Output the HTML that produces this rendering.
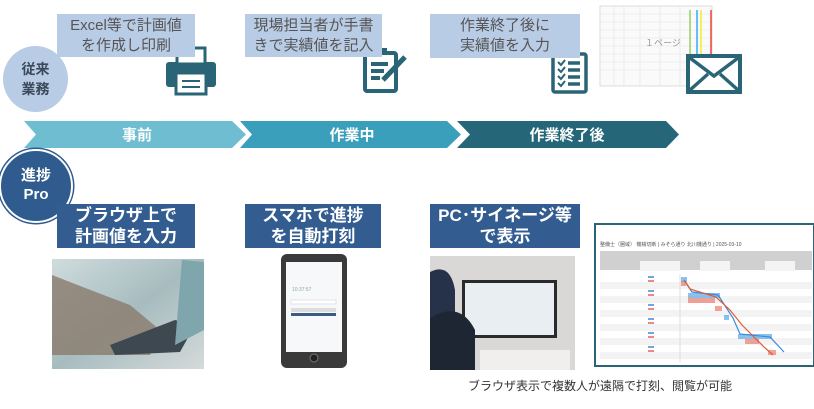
<!DOCTYPE html>
<html><head><meta charset="utf-8"><style>
*{margin:0;padding:0;box-sizing:border-box}
body{width:814px;height:409px;background:#fff;position:relative;overflow:hidden;font-family:"Liberation Sans","Noto Sans CJK JP",sans-serif}
.a{position:absolute}
.lb{background:#b9cce5;color:#555;font-size:15px;line-height:20px;text-align:center;padding-top:2px}
.db{background:#335d90;color:#fff;font-size:17px;font-weight:bold;line-height:21px;text-align:center;padding-top:1px}
.circ{border-radius:50%;text-align:center;font-weight:bold}
</style></head><body>
<svg class="a" style="left:0;top:0" width="814" height="409">
<polygon points="24,121 232,121 246,134.5 232,148 24,148 36,134.5" fill="#6fbdd1"/>
<polygon points="240,121 447,121 461,134.5 447,148 240,148 252,134.5" fill="#3a9fba"/>
<polygon points="457,121 666,121 679,134.5 666,148 457,148 470,134.5" fill="#256678"/>
<text x="137" y="140" fill="#fff" font-size="15" font-weight="bold" text-anchor="middle" font-family="Liberation Sans, Noto Sans CJK JP, sans-serif">事前</text>
<text x="352" y="140" fill="#fff" font-size="15" font-weight="bold" text-anchor="middle" font-family="Liberation Sans, Noto Sans CJK JP, sans-serif">作業中</text>
<text x="567" y="140" fill="#fff" font-size="15" font-weight="bold" text-anchor="middle" font-family="Liberation Sans, Noto Sans CJK JP, sans-serif">作業終了後</text>
<g fill="#2a6577">
<rect x="166" y="62" width="50" height="25" rx="3"/>
<rect x="177" y="48" width="28" height="16" fill="#fff" stroke="#2a6577" stroke-width="3"/>
<rect x="176" y="73" width="30" height="21" fill="#fff" stroke="#2a6577" stroke-width="3"/>
<rect x="182" y="80" width="18" height="2"/><rect x="182" y="86" width="18" height="2"/>
</g>
<g fill="none" stroke="#2a6577" stroke-width="4">
<rect x="365" y="53" width="31" height="38" rx="2"/>
<line x1="371" y1="64" x2="388" y2="64"/><line x1="371" y1="71" x2="384" y2="71"/><line x1="371" y1="78" x2="380" y2="78"/>
</g>
<rect x="374" y="48" width="13" height="6" fill="#2a6577"/>
<line x1="383" y1="80" x2="405" y2="57" stroke="#2a6577" stroke-width="5"/>
<g fill="none" stroke="#2a6577" stroke-width="3.5">
<rect x="553" y="54" width="33" height="38" rx="2"/>
<line x1="568" y1="63" x2="580" y2="63"/><line x1="568" y1="70" x2="580" y2="70"/><line x1="568" y1="77" x2="580" y2="77"/><line x1="568" y1="84" x2="580" y2="84"/>
<path d="M558 62l3 3 4-5M558 69l3 3 4-5M558 76l3 3 4-5M558 83l3 3 4-5" stroke-width="2"/>
</g>
<rect x="566" y="49" width="10" height="6" rx="2" fill="#2a6577"/>
<g>
<rect x="600" y="6" width="112" height="80" fill="#fafafa" stroke="#ddd"/>
<g stroke="#e2e2e2" stroke-width="0.6">
<line x1="600" y1="14" x2="712" y2="14"/><line x1="600" y1="22" x2="712" y2="22"/><line x1="600" y1="30" x2="712" y2="30"/><line x1="600" y1="38" x2="712" y2="38"/><line x1="600" y1="46" x2="712" y2="46"/><line x1="600" y1="54" x2="712" y2="54"/><line x1="600" y1="62" x2="712" y2="62"/><line x1="600" y1="70" x2="712" y2="70"/>
<line x1="614" y1="6" x2="614" y2="86"/><line x1="624" y1="6" x2="624" y2="86"/><line x1="640" y1="6" x2="640" y2="86"/><line x1="660" y1="6" x2="660" y2="86"/><line x1="680" y1="6" x2="680" y2="86"/>
</g>
<line x1="690" y1="10" x2="690" y2="75" stroke="#9c6" stroke-width="1.5"/>
<line x1="697" y1="10" x2="697" y2="75" stroke="#3af" stroke-width="1.5"/>
<line x1="701" y1="10" x2="701" y2="75" stroke="#ee3" stroke-width="1.5"/>
<line x1="711" y1="10" x2="711" y2="75" stroke="#e43" stroke-width="1.5"/>
<text x="645" y="46" font-size="9" fill="#999">１ページ</text>
<rect x="688" y="56" width="52" height="36" fill="#fff" stroke="#2a6577" stroke-width="4"/>
<path d="M690 58l24 18 24-18M690 90l18-16M738 90l-18-16" stroke="#2a6577" stroke-width="3.5" fill="none"/>
</g>
<rect x="281" y="254" width="66" height="114" rx="6" fill="#3a3a3a"/>
<rect x="286" y="262" width="56" height="90" fill="#f7f8fa"/>
<rect x="291" y="308" width="45" height="4" fill="#ddd"/><rect x="291" y="313" width="45" height="3" fill="#3d5a80"/>
<rect x="291" y="300" width="45" height="4" fill="#fff" stroke="#ccc" stroke-width="0.5"/>
<text x="292" y="291" font-size="5" fill="#8aa">10:37:57</text>
<circle cx="314" cy="358" r="4" fill="#222" stroke="#777"/>
<defs>
<linearGradient id="lg1" x1="0" x2="1" y1="0" y2="1"><stop offset="0" stop-color="#cfdcdd"/><stop offset="0.5" stop-color="#a7bcbf"/><stop offset="1" stop-color="#d5dada"/></linearGradient>
</defs>
<rect x="52" y="259" width="152" height="110" fill="url(#lg1)"/>
<path d="M52 275 Q90 290 130 305 L160 330 L150 355 L52 355Z" fill="#8a7a6c" opacity="0.8"/>
<path d="M110 345 L175 320 L195 325 L180 352 L115 355Z" fill="#3d4850"/>
<polygon points="182,260 204,262 204,330 175,345" fill="#7fa5ad"/>
<rect x="430" y="256" width="145" height="114" fill="#d9d8d6"/>
<rect x="462" y="280" width="95" height="58" fill="#2a2a2a"/>
<rect x="465" y="283" width="89" height="52" fill="#e8eef2"/>
<path d="M430 272 Q450 262 455 290 L455 370 L430 370Z" fill="#26324a"/>
<path d="M430 318 Q460 300 475 330 L475 370 L430 370Z" fill="#1e2533"/>
<rect x="480" y="350" width="90" height="20" fill="#f0efed"/>
<rect x="595" y="224" width="219" height="142" fill="#fff" stroke="#2a6577" stroke-width="2"/>
<rect x="600" y="251" width="212" height="19" fill="#d0d0d0"/>
<rect x="640" y="261" width="40" height="10" fill="#f4f4f4"/><rect x="700" y="261" width="30" height="10" fill="#f4f4f4"/><rect x="765" y="261" width="30" height="10" fill="#f4f4f4"/>
<g fill="#f3f3f3"><rect x="600" y="282" width="212" height="7"/><rect x="600" y="296" width="212" height="7"/><rect x="600" y="310" width="212" height="7"/><rect x="600" y="324" width="212" height="7"/><rect x="600" y="338" width="212" height="7"/><rect x="600" y="352" width="212" height="7"/></g>
<g fill="#7ba2de"><rect x="648" y="276" width="6" height="2"/><rect x="648" y="290" width="6" height="2"/><rect x="648" y="304" width="6" height="2"/><rect x="648" y="318" width="6" height="2"/><rect x="648" y="332" width="6" height="2"/><rect x="648" y="346" width="6" height="2"/></g>
<g fill="#e88"><rect x="648" y="280" width="6" height="2"/><rect x="648" y="294" width="6" height="2"/><rect x="648" y="308" width="6" height="2"/><rect x="648" y="322" width="6" height="2"/><rect x="648" y="336" width="6" height="2"/><rect x="648" y="350" width="6" height="2"/></g>
<line x1="680" y1="274" x2="680" y2="362" stroke="#ddd"/>
<g fill="#5aa7e6" opacity="0.7"><rect x="681" y="277" width="6" height="5"/><rect x="688" y="293" width="32" height="5"/><rect x="724" y="315" width="5" height="5"/><rect x="738" y="334" width="34" height="5"/></g>
<g fill="#ec7d6c" opacity="0.7"><rect x="681" y="281" width="5" height="5"/><rect x="688" y="298" width="27" height="5"/><rect x="715" y="306" width="7" height="5"/><rect x="745" y="339" width="14" height="5"/><rect x="768" y="350" width="8" height="5"/></g>
<polyline points="684,280 692,292 718,295 733,318 740,334 770,337 784,352" fill="none" stroke="#3a8ae0" stroke-width="1.2"/>
<polyline points="685,281 690,289 716,297 730,310 742,325 764,347 773,355" fill="none" stroke="#e05a3c" stroke-width="1.2"/>
<text x="600" y="246" font-size="5" fill="#555">整備士（圏域） 機械切断 | みそら通り 北川機通り | 2025-03-10</text>
</svg>
<div class="a lb" style="left:57px;top:14px;width:138px;height:43px">Excel等で計画値<br>を作成し印刷</div>
<div class="a lb" style="left:245px;top:14px;width:137px;height:43px">現場担当者が手書<br>きで実績値を記入</div>
<div class="a lb" style="left:430px;top:14px;width:150px;height:44px">作業終了後に<br>実績値を入力</div>
<div class="a circ" style="left:3px;top:46px;width:65px;height:66px;background:#b9cce5;color:#3b4a5a;font-size:14px;line-height:20px;padding-top:13px">従来<br>業務</div>
<div class="a circ" style="left:-1px;top:149px;width:74px;height:74px;background:#2f5b8e;border:2px solid #fff;box-shadow:0 0 0 1.5px #2f5b8e;color:#fff;font-size:15px;line-height:19px;padding-top:15px">進捗<br>Pro</div>
<div class="a db" style="left:57px;top:204px;width:138px;height:44px">ブラウザ上で<br>計画値を入力</div>
<div class="a db" style="left:245px;top:204px;width:136px;height:44px">スマホで進捗<br>を自動打刻</div>
<div class="a db" style="left:430px;top:204px;width:150px;height:44px">PC･サイネージ等<br>で表示</div>
<div class="a" style="left:468px;top:377px;width:270px;font-size:12px;color:#333;text-align:left">ブラウザ表示で複数人が遠隔で打刻、閲覧が可能</div>
</body></html>
